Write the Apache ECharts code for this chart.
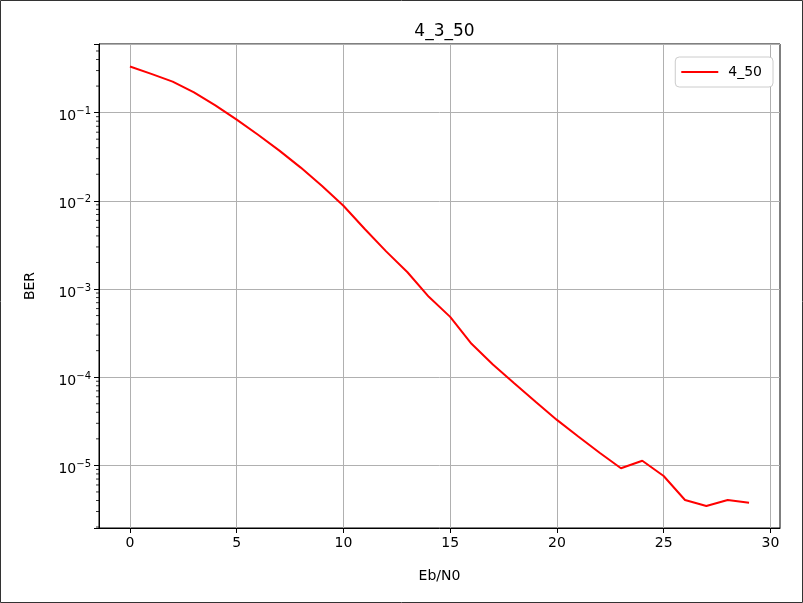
<!DOCTYPE html>
<html>
<head>
<meta charset="utf-8">
<script src="https://cdn.jsdelivr.net/npm/echarts@6/dist/echarts.min.js"></script>
<style>
html,body{margin:0;padding:0;background:#fff;}
#c{width:803px;height:603px;}
</style>
</head>
<body>
<div id="c"></div>
<script>
const ebn0 = [0,1,2,3,4,5,6,7,8,9,10,11,12,13,14,15,16,17,18,19,20,21,22,23,24,25,26,27,28,29];
const ber = [0.333,0.275,0.225,0.170,0.121,0.0833,0.0562,0.0371,0.0238,0.0147,0.0088,0.00479,0.00267,0.00155,0.000816,0.000483,0.000239,0.000139,0.0000855,0.0000528,0.0000328,0.0000213,0.0000139,0.00000927,0.0000113,0.00000758,0.00000405,0.00000346,0.00000405,0.00000377];
const seriesName = '4_50';
const chartTitle = '4_3_50';
const xTicks = [0,5,10,15,20,25,30];
const yTicks = [1e-5,1e-4,1e-3,1e-2,1e-1];
const yMinor = [];
for (let e = -6; e <= -1; e++) { for (let m = 2; m <= 9; m++) yMinor.push(m * Math.pow(10, e)); }

const FONT = 'DejaVu Sans';

const chart = echarts.init(document.getElementById('c'));
const yMin = 1.95e-6, yMax = 0.6, xMin = -1.45, xMax = 30.45;
chart.setOption({
  animation: false,
  backgroundColor: '#fff',
  graphic: [{type:'rect', shape:{x:0.5,y:0.5,width:802,height:602}, style:{fill:'none', stroke:'#333', lineWidth:1}}],
  title: {text: chartTitle, left: 439.5, textAlign: 'center', top: 18,
    textStyle:{fontFamily:FONT, fontSize:17, fontWeight:'normal', color:'#000'}},
  legend: {right: 30, top: 57, orient:'vertical', padding:[8,11,8,6],
    borderColor:'#cccccc', borderWidth:1, borderRadius:4, backgroundColor:'#fff',
    itemWidth: 37, itemHeight: 2, icon:'rect', itemGap: 6,
    textStyle:{fontFamily:FONT, fontSize:14, color:'#000', padding:[0,0,0,5]},
    data:[seriesName]},
  grid: {left: 99, top: 44, width: 681, height: 484, show: true, borderColor:'#000', borderWidth:1, containLabel:false},
  xAxis: {type:'value', min:xMin, max:xMax,
    name:'Eb/N0', nameLocation:'middle', nameGap:41,
    nameTextStyle:{fontFamily:FONT, fontSize:14, color:'#000'},
    axisLine:{show:true, onZero:false, lineStyle:{color:'#000', width:1}},
    axisTick:{show:true, length:5, lineStyle:{color:'#000'}, customValues: xTicks},
    axisLabel:{fontFamily:FONT, fontSize:14, color:'#000', margin:8, customValues: xTicks},
    splitLine:{show:true, lineStyle:{color:'#b0b0b0', width:1}}
  },
  yAxis: {type:'log', logBase:10, min:yMin, max:yMax,
    name:'BER', nameLocation:'middle', nameGap:62, nameRotate:90,
    nameTextStyle:{fontFamily:FONT, fontSize:14, color:'#000'},
    axisLine:{show:true, onZero:false, lineStyle:{color:'#000', width:1}},
    axisTick:{show:true, length:5, lineStyle:{color:'#000'}},
    axisLabel:{color:'#000', margin:8,
      formatter: function(v){
        const e = Math.log10(v);
        if (Math.abs(e - Math.round(e)) > 1e-6) return '';
        return '{b|10}{s|\u2212' + Math.abs(Math.round(e)) + '}';
      },
      rich:{
        b:{fontFamily:FONT, fontSize:14, color:'#000', verticalAlign:'bottom', lineHeight:22},
        s:{fontFamily:FONT, fontSize:10, color:'#000', verticalAlign:'bottom', padding:[0,0,7,0], lineHeight:22}
      }},
    splitLine:{show:true, lineStyle:{color:'#b0b0b0', width:1}}
  },
  series: [{name: seriesName, type:'line', data: ebn0.map((x,i)=>[x, ber[i]]),
    showSymbol:false, symbol:'none', lineStyle:{color:'#ff0000', width:2}, itemStyle:{color:'#ff0000'}, z:3},
    {name:'minorTicks', type:'scatter', silent:true, clip:false, z:1,
     data: yMinor.filter(v => v > yMin && v < yMax).map(v => [xMin, v]),
     symbol:'rect', symbolSize:[3,1], symbolOffset:[-1.5,0],
     itemStyle:{color:'#000'}, tooltip:{show:false}}]
});
</script>
</body>
</html>
